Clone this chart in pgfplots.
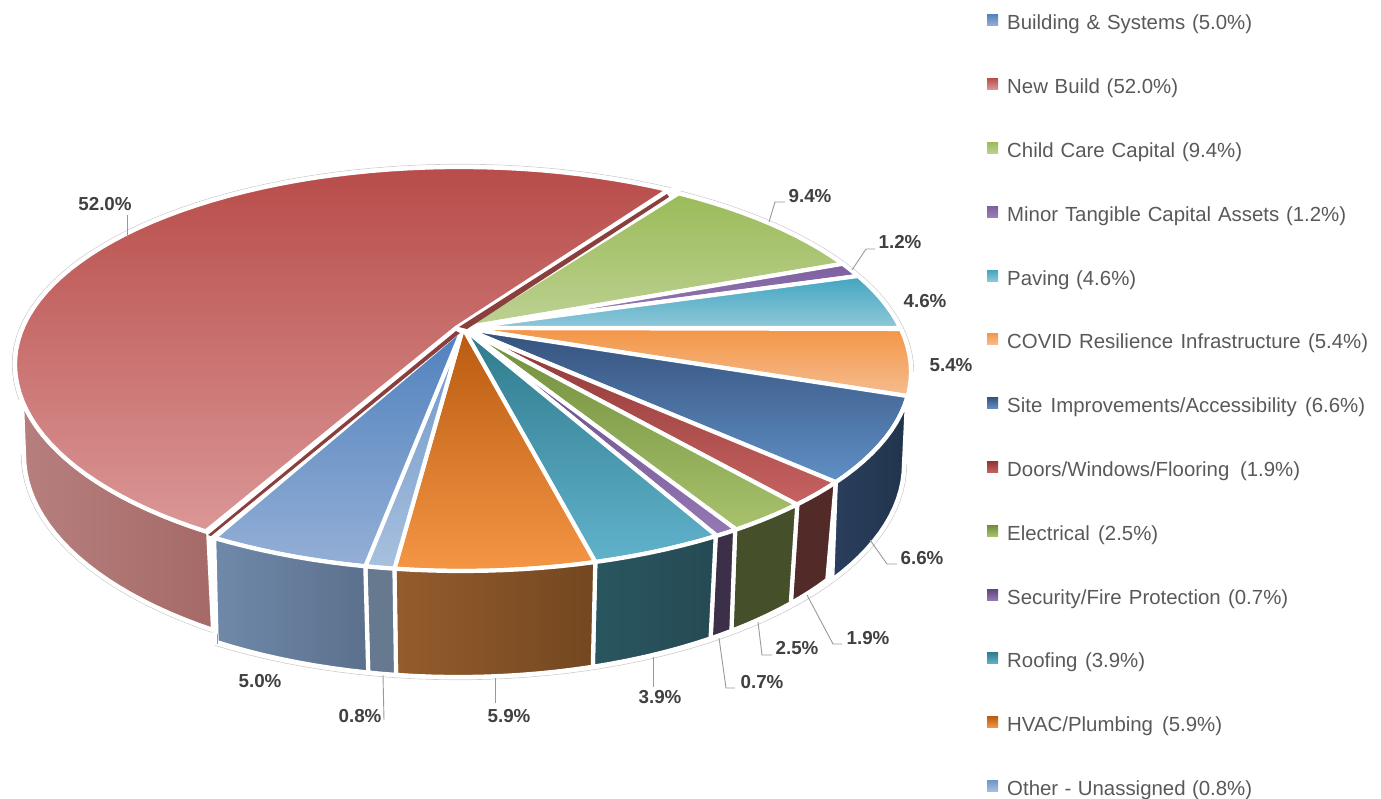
\documentclass[border=0pt]{standalone}
\usepackage{fontspec}
\setmainfont{Liberation Sans}
\usepackage{pgfplots}
\pgfplotsset{compat=1.18}
\definecolor{buT}{HTML}{4F81BD}\definecolor{buB}{HTML}{94AFD6}
\definecolor{neT}{HTML}{B84C4A}\definecolor{neB}{HTML}{DA9796}
\definecolor{chT}{HTML}{9BBB59}\definecolor{chB}{HTML}{BDD193}
\definecolor{miT}{HTML}{7D5FA0}\definecolor{miB}{HTML}{9A80B6}
\definecolor{paT}{HTML}{42A5C0}\definecolor{paB}{HTML}{90C8D9}
\definecolor{coT}{HTML}{F39646}\definecolor{coB}{HTML}{F5BC90}
\definecolor{siT}{HTML}{35517C}\definecolor{siB}{HTML}{6090C6}
\definecolor{doT}{HTML}{8C3533}\definecolor{doB}{HTML}{C76362}
\definecolor{elT}{HTML}{6F8C3A}\definecolor{elB}{HTML}{A8C26C}
\definecolor{seT}{HTML}{5F4480}\definecolor{seB}{HTML}{9479B4}
\definecolor{roT}{HTML}{2F7A8C}\definecolor{roB}{HTML}{60B2CB}
\definecolor{hvT}{HTML}{B85A10}\definecolor{hvB}{HTML}{F59645}
\definecolor{otT}{HTML}{6C95C8}\definecolor{otB}{HTML}{A8C0DE}
\definecolor{wNeL}{HTML}{B67F7D}\definecolor{wNeR}{HTML}{A56A68}
\definecolor{wBuL}{HTML}{7089AA}\definecolor{wBuR}{HTML}{5B708C}
\definecolor{wOt}{HTML}{66798F}
\definecolor{wHvL}{HTML}{955C2C}\definecolor{wHvR}{HTML}{734720}
\definecolor{wRoL}{HTML}{295660}\definecolor{wRoR}{HTML}{264A54}
\definecolor{wSe}{HTML}{3C3048}
\definecolor{wEl}{HTML}{454F2A}
\definecolor{wDo}{HTML}{522A28}
\definecolor{wSiL}{HTML}{2A3F5E}\definecolor{wSiR}{HTML}{22344C}
\definecolor{sliver}{HTML}{8A3F3D}
\definecolor{lead}{HTML}{999999}
\definecolor{legtxt}{HTML}{595959}
\definecolor{labtxt}{HTML}{404040}
% clockwise arc on an ellipse between two points
\newcommand\addarc[9]{%
  \pgfmathsetmacro\rA{#7<#2 ? #4 : #5}%
  \pgfmathsetmacro\tA{atan2((#2-#7)/\rA,(#6-#1)/#3)}%
  \pgfmathsetmacro\rB{#9<#2 ? #4 : #5}%
  \pgfmathsetmacro\tB{atan2((#2-#9)/\rB,(#8-#1)/#3)}%
  \pgfmathsetmacro\tB{\tB>\tA ? \tB-360 : \tB}%
  \pgfmathtruncatemacro\nN{max(2,ceil((\tA-\tB)/2.5))}%
  \ifnum\arcrev=0 \edef\klist{0,...,\nN}\else \edef\klist{\nN,...,0}\fi
  \foreach \kk in \klist {%
    \pgfmathsetmacro\Tt{\tA+(\tB-\tA)*\kk/\nN}%
    \pgfmathsetmacro\Rr{sin(\Tt)>0 ? #4 : #5}%
    \pgfmathsetmacro\xX{#1+#3*cos(\Tt)}%
    \pgfmathsetmacro\yY{#2-\Rr*sin(\Tt)}%
    \xdef\plist{\plist (\xX,\yY)}%
  }}
\def\arcrev{0}
\newcommand\setE[5]{\def\Ea{#1}\def\Eb{#2}\def\Ec{#3}\def\Ed{#4}\def\Ee{#5}}
\newcommand\setF[5]{\def\Fa{#1}\def\Fb{#2}\def\Fc{#3}\def\Fd{#4}\def\Fe{#5}}
\def\gap{4.2pt}
% top of a slice: apex x y, arc from x y to x y, top colour, bottom colour
\newcommand\topslice[8]{%
  \xdef\plist{(#1,#2)}\def\arcrev{0}%
  \addarc{\Ea}{\Eb}{\Ec}{\Ed}{\Ee}{#3}{#4}{#5}{#6}%
  \edef\doit{\noexpand\addplot[draw=white,line width=\gap,line join=round,top color=#7,bottom color=#8] coordinates {\plist} -- cycle;}\doit}
% wall of a slice: top arc, bottom arc, both clockwise
\newcommand\sideslice[9]{%
  \xdef\plist{}\def\arcrev{0}%
  \addarc{\Ea}{\Eb}{\Ec}{\Ed}{\Ee}{#1}{#2}{#3}{#4}%
  \def\arcrev{1}%
  \addarc{\Fa}{\Fb}{\Fc}{\Fd}{\Fe}{#5}{#6}{#7}{#8}%
  \def\arcrev{0}%
  \edef\doit{\noexpand\addplot[draw=white,line width=\gap,line join=round,#9] coordinates {\plist} -- cycle;}\doit}
\newcommand\outlinearc[9]{%
  \xdef\plist{}\def\arcrev{0}%
  \addarc{#1}{#2}{#3}{#4}{#5}{#6}{#7}{#8}{#9}%
  \edef\doit{\noexpand\addplot[draw=black!20,line width=0.6pt] coordinates {\plist};}\doit}
\newcommand\legitem[5]{% y, colours, right end, text
  \pgfmathsetmacro\yA{#1-8}\pgfmathsetmacro\yB{#1+3.5}\pgfmathsetmacro\yC{#1+7}%
  \pgfmathsetmacro\wD{#4-1007}%
  \edef\doit{\noexpand\addplot[draw=none,top color=#2,bottom color=#3] coordinates {(987,\yA) (998,\yA) (998,\yB) (987,\yB)} -- cycle;}\doit
  \edef\doit{\noexpand\node[anchor=base west,inner sep=0pt,text=legtxt,font=\noexpand\fontsize{20.4}{24}\noexpand\selectfont] at (axis cs:1007,\yC) {\noexpand\makebox[\wD pt][s]{\unexpanded{#5}}};}\doit}
\newcommand\lab[3]{\node[anchor=center,inner sep=0pt,text=labtxt,font=\fontsize{18.8}{22}\selectfont\bfseries] at (axis cs:#1,#2) {#3\%};}
\begin{document}
\begin{tikzpicture}
\path[use as bounding box] (0,0) rectangle (1381pt,798pt);
\begin{axis}[
  scale only axis, width=1381pt, height=798pt,
  xmin=0, xmax=1381, ymin=0, ymax=798, y dir=reverse,
  hide axis, clip=false]
% thin outer outline
\outlinearc{460}{364}{447.8}{199.8}{206.8}{18}{400}{668}{190}
\outlinearc{462}{372}{451.8}{206.8}{201.8}{680}{191}{913}{372}
\outlinearc{458}{464}{448.8}{215.8}{215.8}{906}{464}{218}{643}
\outlinearc{464}{455}{442.8}{215.8}{215.8}{213}{632}{22}{455}
% New Build wall and top
\setE{460}{364}{445}{197}{204}
\setF{464}{455}{440}{213}{213}
\sideslice{207}{533}{18}{400}{213}{630}{24}{455}{left color=wNeL,right color=wNeR}
\topslice{456}{328}{205}{532}{667}{191}{neT}{neB}
% the other slices
\setE{462}{372}{449}{204}{199}
\setF{458}{464}{440}{213}{213}
\topslice{463}{328}{679}{193}{842}{264}{chT}{chB}
\topslice{463}{328}{842}{264}{858}{276}{miT}{miB}
\topslice{463}{328}{858}{276}{900}{328}{paT}{paB}
\topslice{463}{328}{900}{329}{906}{396}{coT}{coB}
\topslice{463}{328}{906}{396}{835}{482}{siT}{siB}
\topslice{463}{328}{835}{482}{798}{505}{doT}{doB}
\topslice{463}{328}{798}{505}{737}{530}{elT}{elB}
\topslice{463}{328}{737}{530}{717}{536}{seT}{seB}
\topslice{463}{328}{717}{536}{596}{563}{roT}{roB}
\topslice{463}{328}{596}{563}{394}{570}{hvT}{hvB}
\topslice{463}{328}{394}{570}{365}{567}{otT}{otB}
\topslice{463}{328}{365}{567}{214}{538}{buT}{buB}
% walls
\setF{458}{464}{446}{213}{213}
\sideslice{906}{398}{835}{482}{904}{464}{826}{578}{left color=wSiL,right color=wSiR}
\setF{458}{464}{440}{213}{213}
\sideslice{835}{482}{799}{505}{828}{580}{790}{603}{fill=wDo}
\sideslice{799}{505}{737}{531}{790}{603}{730}{630}{fill=wEl}
\sideslice{737}{531}{717}{537}{730}{630}{710}{638}{fill=wSe}
\sideslice{717}{537}{596}{563}{710}{638}{593}{667}{left color=wRoL,right color=wRoR}
\sideslice{596}{563}{394}{570}{593}{667}{396}{675}{left color=wHvL,right color=wHvR}
\sideslice{394}{570}{365}{567}{396}{675}{368}{673}{fill=wOt}
\sideslice{365}{567}{214}{538}{368}{673}{218}{641}{left color=wBuL,right color=wBuR}
% inner walls of the pulled-out slice
\addplot[draw=none,fill=sliver] coordinates {(459,327) (467,329) (669,197) (667,194)} -- cycle;
\addplot[draw=none,fill=sliver] coordinates {(456,331) (460,333) (211,536) (208,535)} -- cycle;
% leaders
\addplot[draw=lead,line width=0.9pt] coordinates {(769,222) (775,202) (785,202)};
\addplot[draw=lead,line width=0.9pt] coordinates {(852,270) (866,249) (875,249)};
\addplot[draw=lead,line width=0.9pt] coordinates {(127,215) (127,237)};
\addplot[draw=lead,line width=0.9pt] coordinates {(870,540) (887,564) (897,564)};
\addplot[draw=lead,line width=0.9pt] coordinates {(807,595) (833,644) (842,644)};
\addplot[draw=lead,line width=0.9pt] coordinates {(758,622) (762,655) (772,655)};
\addplot[draw=lead,line width=0.9pt] coordinates {(719,638) (726,688) (735,688)};
\addplot[draw=lead,line width=0.9pt] coordinates {(653,657) (653,687)};
\addplot[draw=lead,line width=0.9pt] coordinates {(495,678) (495,703)};
\addplot[draw=lead,line width=0.9pt] coordinates {(383,675) (384,720)};
\addplot[draw=lead,line width=0.6pt] coordinates {(217,634) (217,644)};
\lab{810}{196}{9.4}
\lab{900}{242}{1.2}
\lab{925}{301}{4.6}
\lab{951}{365}{5.4}
\lab{105}{204}{52.0}
\lab{922}{558}{6.6}
\lab{868}{638}{1.9}
\lab{797}{648}{2.5}
\lab{762}{682}{0.7}
\lab{660}{697}{3.9}
\lab{509}{716}{5.9}
\lab{360}{716}{0.8}
\lab{260}{681}{5.0}
% legend
\legitem{22}{buT}{buB}{1252}{Building \& Systems (5.0\%)}
\legitem{86}{neT}{neB}{1178}{New Build (52.0\%)}
\legitem{150}{chT}{chB}{1242}{Child Care Capital (9.4\%)}
\legitem{214}{miT}{miB}{1346}{Minor Tangible Capital Assets (1.2\%)}
\legitem{278}{paT}{paB}{1136}{Paving (4.6\%)}
\legitem{341}{coT}{coB}{1368}{COVID Resilience Infrastructure (5.4\%)}
\legitem{405}{siT}{siB}{1365}{Site Improvements/Accessibility (6.6\%)}
\legitem{469}{doT}{doB}{1300}{Doors/Windows/Flooring (1.9\%)}
\legitem{533}{elT}{elB}{1158}{Electrical (2.5\%)}
\legitem{597}{seT}{seB}{1288}{Security/Fire Protection (0.7\%)}
\legitem{660}{roT}{roB}{1145}{Roofing (3.9\%)}
\legitem{724}{hvT}{hvB}{1222}{HVAC/Plumbing (5.9\%)}
\legitem{788}{otT}{otB}{1252}{Other - Unassigned (0.8\%)}
\end{axis}
\end{tikzpicture}
\end{document}
